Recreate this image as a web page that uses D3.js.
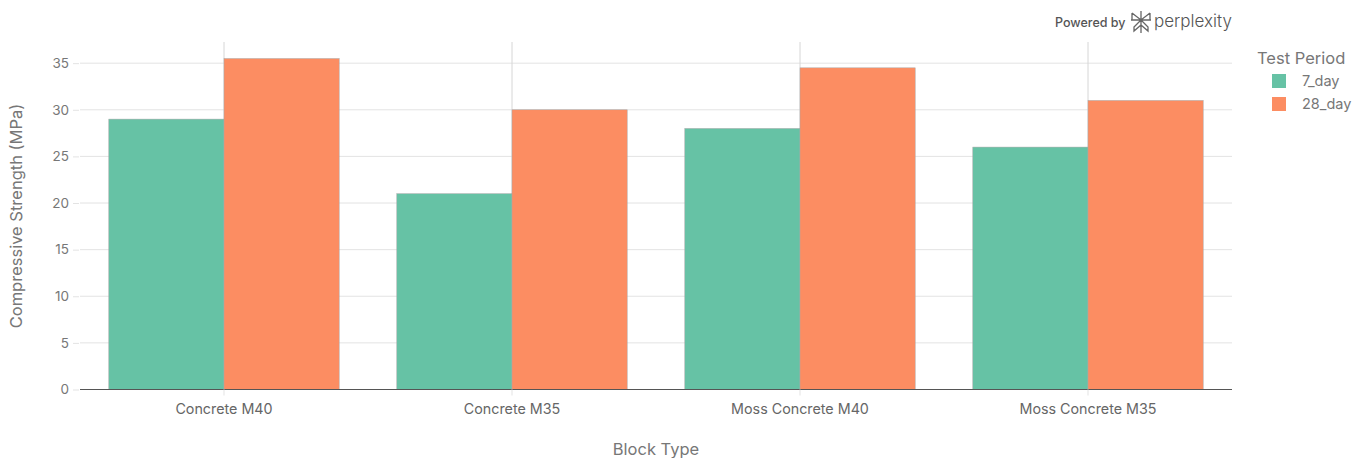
<!DOCTYPE html>
<html><head><meta charset="utf-8">
<script src="https://cdn.jsdelivr.net/npm/d3@7"></script>
<style>body{margin:0;background:#fff;}svg{font-family:Inter,"Open Sans",sans-serif;}</style>
</head><body>
<svg id="c" width="1369" height="458"></svg>
<script>
const categories = ["Concrete M40", "Concrete M35", "Moss Concrete M40", "Moss Concrete M35"];
const seriesNames = ["7_day", "28_day"];
const values7 = [29, 21, 28, 26];
const values28 = [35.5, 30, 34.5, 31];
const yTicks = [0, 5, 10, 15, 20, 25, 30, 35];
const colors = ["#66c2a5", "#fc8d62"];

const svg = d3.select("#c");
const L = 80, R = 1232, T = 42, B = 389.5;
const x = d3.scaleBand().domain(categories).range([L, R]).paddingInner(0.2).paddingOuter(0.1);
const xc = d3.scaleBand().domain(categories).range([L, R]);
const xs = d3.scaleBand().domain(seriesNames).range([0, x.bandwidth()]);
const y = d3.scaleLinear().domain([0, 37.27]).range([B, T]);

// grid
svg.append("g").selectAll("line").data(yTicks.filter(d => d > 0)).join("line")
  .attr("x1", L).attr("x2", R).attr("y1", d => y(d)).attr("y2", d => y(d))
  .attr("stroke", "#e3e3e3").attr("stroke-width", 1);
svg.append("g").selectAll("line").data(categories).join("line")
  .attr("x1", d => xc(d) + xc.bandwidth()/2).attr("x2", d => xc(d) + xc.bandwidth()/2)
  .attr("y1", T).attr("y2", B).attr("stroke", "#d6d6d6");

// bars
const data = [];
categories.forEach((c, i) => { data.push({c, s: "7_day", v: values7[i]}); data.push({c, s: "28_day", v: values28[i]}); });
svg.append("g").selectAll("rect").data(data).join("rect")
  .attr("x", d => x(d.c) + xs(d.s)).attr("width", xs.bandwidth())
  .attr("y", d => y(d.v)).attr("height", d => B - y(d.v))
  .attr("fill", d => colors[seriesNames.indexOf(d.s)])
  .attr("stroke", "#a8a8a8").attr("stroke-width", 0.5);

// y axis
const yAxis = d3.axisLeft(y).tickValues(yTicks).tickSize(6).tickPadding(4);
const gy = svg.append("g").attr("transform", `translate(${L - 1},0)`).call(yAxis);
gy.select(".domain").remove();
gy.selectAll(".tick line").attr("stroke", "#e3e3e3");
gy.selectAll(".tick text").attr("fill", "#777").attr("font-size", 13.5).attr("font-family", "Inter,'Open Sans',sans-serif");

// x axis
const xAxis = d3.axisBottom(xc).tickSize(6).tickPadding(8);
const gx = svg.append("g").attr("transform", `translate(0,${B})`).call(xAxis);
gx.select(".domain").attr("stroke", "#555").attr("d", `M${L},0H${R}`);
gx.selectAll(".tick line").attr("stroke", "#e3e3e3");
gx.selectAll(".tick text").attr("fill", "#666").attr("font-size", 14.3).attr("font-family", "Inter,'Open Sans',sans-serif");

// axis titles
svg.append("text").attr("x", 656).attr("y", 455).attr("text-anchor", "middle")
  .attr("fill", "#777").attr("font-size", 16.5).text("Block Type");
svg.append("text").attr("transform", "translate(22,216) rotate(-90)").attr("text-anchor", "middle")
  .attr("fill", "#777").attr("font-size", 16.5).text("Compressive Strength (MPa)");

// legend
const lg = svg.append("g");
lg.append("text").attr("x", 1257).attr("y", 64).attr("fill", "#777").attr("font-size", 16.5).text("Test Period");
seriesNames.forEach((s, i) => {
  lg.append("rect").attr("x", 1272).attr("y", 74 + i * 23).attr("width", 14).attr("height", 14).attr("fill", colors[i]);
  lg.append("text").attr("x", 1302).attr("y", 86 + i * 23).attr("fill", "#777").attr("font-size", 14.5).text(s);
});

// powered by
svg.append("text").attr("x", 1055).attr("y", 27).attr("fill", "#555").attr("font-size", 12.5).attr("font-weight", 500).text("Powered by");
const lgo = svg.append("g").attr("transform", "translate(1131,11)").attr("fill", "none").attr("stroke", "#666").attr("stroke-width", 1.3);
lgo.append("path").attr("d", "M10,0V22M1,2L10,9L19,2M1,2V9M19,2V9M0,9H20M10,9L3,16V20L10,14M10,9L17,16V20L10,14");
svg.append("text").attr("x", 1154).attr("y", 27).attr("fill", "#555").attr("font-size", 17).attr("font-weight", 300).text("perplexity");
</script>
</body></html>
